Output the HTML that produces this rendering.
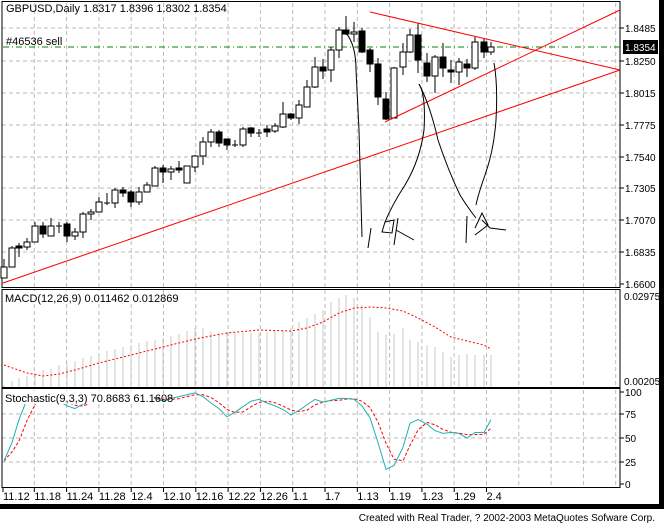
<!DOCTYPE html>
<html><head><meta charset="utf-8"><style>
html,body{margin:0;padding:0;background:#fff;width:664px;height:525px;overflow:hidden}
svg{display:block}
text{font-family:"Liberation Sans",sans-serif;font-size:11px;fill:#000}
text.a{font-size:10px}
</style></head><body>
<svg id="s" width="664" height="525" xmlns="http://www.w3.org/2000/svg"></svg>
<script>
const S=document.getElementById('s');let h='';
h+='<rect x="0" y="0" width="664" height="525" fill="#fff"/>';
const gx=[];for(let i=0;i<20;i++)gx.push(2+32.3*i);
const vg=(y1,y2)=>gx.slice(1).forEach(x=>{if(x<619)h+=`<line x1="${x}" y1="${y1}" x2="${x}" y2="${y2}" stroke="#bbb" stroke-dasharray="4,3"/>`});
const hg=(y,x2=620)=>h+=`<line x1="2" y1="${y}" x2="${x2}" y2="${y}" stroke="#bbb" stroke-dasharray="4,3"/>`;
vg(3,287);vg(290,387);vg(390,487);
const py=[28,61,93,125,157,188,220,252];py.forEach(y=>hg(y));
[414,438,462].forEach(y=>hg(y));
h+='<rect x="2" y="1.5" width="618" height="286" fill="none" stroke="#000"/>';
h+='<rect x="2" y="289.5" width="618" height="98" fill="none" stroke="#000"/>';
h+='<rect x="2" y="388.5" width="618" height="99" fill="none" stroke="#000"/>';
h+='<rect x="659" y="0" width="5" height="509" fill="#000"/><rect x="0" y="504" width="664" height="5" fill="#000"/>';
const pl=['1.8485','1.8250','1.8015','1.7775','1.7540','1.7305','1.7070','1.6835','1.6600'];
const ply=[28,61,93,125,157,188,220,252,284];
pl.forEach((t,i)=>{h+=`<line x1="620" y1="${ply[i]}" x2="624" y2="${ply[i]}" stroke="#000"/><text class="a" x="625" y="${ply[i]+4}">${t}</text>`});
h+='<line x1="3" y1="47" x2="620" y2="47" stroke="#080" stroke-dasharray="6,3,1,3"/>';
h+='<rect x="623" y="40" width="35" height="14" fill="#000"/><text class="a" x="625" y="51" style="fill:#fff">1.8354</text>';
h+='<text x="6" y="12">GBPUSD,Daily  1.8317 1.8396 1.8302 1.8354</text><text x="6" y="45">#46536 sell</text>';
const C=[[4,'w',267,278,259,278],[12,'w',248,267,246,267],[19,'b',246,248,243,257],[27,'w',242,247,238,250],[35,'w',226,242,222,242],[43,'b',226,234,222,238],[51,'w',226,236,218,236],[59,'c',226,226,222,233],[67,'b',224,236,222,242],[75,'w',232,236,228,240],[83,'w',214,232,212,238],[91,'w',212,214,209,220],[99,'w',202,212,197,212],[107,'c',203,203,193,205],[115,'w',190,203,188,208],[123,'b',190,193,187,197],[131,'b',192,202,190,207],[139,'w',192,202,187,205],[147,'w',185,192,182,192],[155,'w',168,186,166,186],[163,'b',168,172,165,183],[171,'w',169,172,166,180],[179,'b',168,169,161,173],[187,'w',166,183,166,183],[195,'w',156,167,155,172],[203,'w',142,156,137,165],[211,'w',132,142,129,147],[219,'b',132,143,130,147],[227,'b',139,145,139,150],[235,'c',145,145,140,147],[243,'w',129,145,127,147],[251,'b',128,133,127,137],[259,'c',133,133,129,137],[267,'b',129,132,125,137],[275,'w',126,131,123,133],[283,'w',114,127,102,128],[291,'b',114,118,113,120],[299,'w',105,118,100,124],[307,'w',87,107,80,107],[315,'w',67,87,57,88],[323,'b',67,71,59,79],[331,'w',50,70,47,82],[339,'w',30,50,27,58],[346,'b',30,34,16,35],[354,'w',32,33,22,42],[362,'b',31,52,28,53],[370,'b',50,64,48,72],[378,'b',64,97,58,105],[386,'b',99,119,92,120],[394,'w',68,118,67,118],[403,'w',52,67,43,75],[410,'w',35,52,29,53],[418,'b',35,60,23,73],[427,'b',63,76,53,82],[435,'w',57,76,55,93],[443,'b',57,68,43,77],[451,'b',70,72,60,83],[459,'w',62,72,58,85],[467,'b',64,68,59,77],[475,'w',42,68,37,70],[484,'b',42,52,38,58],[491,'w',47,52,42,55]];
C.forEach(c=>{const[x,t,a,b,hi,lo]=c;h+=`<line x1="${x}" y1="${hi}" x2="${x}" y2="${lo}" stroke="#000"/>`;
if(t=='c')h+=`<line x1="${x-3}" y1="${a}" x2="${x+3}" y2="${a}" stroke="#000"/>`;
else h+=`<rect x="${x-3}" y="${a}" width="6" height="${Math.max(b-a,2)}" fill="${t=='b'?'#000':'#fff'}" stroke="#000"/>`;});
h+='<g stroke="#f00" stroke-width="1" fill="none"><line x1="3" y1="283" x2="620" y2="70"/><line x1="370" y1="12" x2="620" y2="70"/><line x1="385" y1="122" x2="620" y2="10"/></g>';
h+='<g stroke="#000" stroke-width="1" fill="none">';
h+='<path d="M346,33 Q356,45 356,70 L359,130 L362,237"/><path d="M371,228 L368,248"/>';
h+='<path d="M382,232 L385,222 L394,220 L392,233 Z M398,218 L394,245 M396,230 L414,240"/>';
h+='<path d="M419,84 Q426,95 424,130 Q420,160 405,185 Q392,205 385,222"/>';
h+='<path d="M419,84 Q430,105 438,140 Q448,170 460,195 Q468,208 476,218"/>';
h+='<path d="M494,63 Q498,85 496,120 Q494,150 485,175 Q478,195 476,205"/>';
h+='<path d="M467,216 L466,243 M475,228 L482,213 L488,225 L475,235 M482,220 L490,228 L506,230"/>';
h+='</g>';
const mh=[[4,385],[12,381],[19,378],[27,376],[35,373],[43,370],[51,369],[59,365],[67,363],[75,361],[83,358],[91,356],[99,353],[107,351],[115,349],[123,347],[131,345],[139,343],[147,341],[155,340],[163,338],[171,336],[179,334],[187,331],[195,328],[203,328],[211,331],[219,332],[227,332],[235,333],[243,333],[251,333],[259,333],[267,332],[275,331],[283,330],[291,328],[299,322],[307,318],[315,314],[323,310],[331,302],[339,298],[346,295],[354,298],[362,305],[370,317],[378,332],[386,334],[394,334],[403,328],[410,340],[418,342],[427,345],[435,347],[443,352],[451,357],[459,355],[467,354],[475,355],[484,355],[491,355]];
mh.forEach(([x,y])=>h+=`<line x1="${x}" y1="${y}" x2="${x}" y2="387" stroke="#c8c8c8"/>`);
const sg=[[4,365],[27,373],[43,376],[59,374],[75,370],[99,363],[131,355],[163,347],[195,339],[227,333],[259,330],[291,331],[307,328],[323,322],[339,313],[354,308],[370,307],[386,308],[403,311],[418,318],[435,327],[451,337],[467,341],[484,345],[491,349]];
h+=`<polyline points="${sg.map(p=>p.join(',')).join(' ')}" fill="none" stroke="#f00" stroke-dasharray="2,2"/>`;
h+='<text class="a" x="624" y="300">0.02975</text><text class="a" x="624" y="385">0.00205</text>';
const K=[[4,25],[12,45],[19,70],[27,92],[35,97],[43,98],[51,92],[59,90],[67,85],[75,82],[83,87],[91,95],[99,97],[107,95],[115,94],[123,97],[131,96],[139,96],[147,93],[155,93],[163,90],[171,93],[179,95],[187,97],[195,99],[203,95],[211,88],[219,82],[227,73],[235,78],[243,84],[251,90],[259,92],[267,88],[275,85],[283,81],[291,75],[299,80],[307,86],[315,92],[323,89],[331,91],[339,93],[346,93],[354,92],[362,85],[370,72],[378,45],[386,16],[394,20],[403,40],[410,66],[418,70],[427,65],[435,58],[443,55],[451,56],[459,55],[467,50],[475,56],[484,56],[491,70]];
const sy=v=>484-v*0.92;
const D=K.map((p,i)=>{const a=K.slice(Math.max(0,i-2),i+1);return[p[0],a.reduce((s,q)=>s+q[1],0)/a.length]});
h+=`<polyline points="${D.map(p=>p[0]+','+sy(p[1]).toFixed(1)).join(' ')}" fill="none" stroke="#f00" stroke-dasharray="3,2"/>`;
h+=`<polyline points="${K.map(p=>p[0]+','+sy(p[1]).toFixed(1)).join(' ')}" fill="none" stroke="#20b0b0"/>`;
h+='<rect x="4" y="291" width="130" height="13" fill="#fff"/><text x="5" y="302">MACD(12,26,9)  0.011462  0.012869</text>';
h+='<rect x="4" y="391" width="150" height="13" fill="#fff"/><text x="5" y="402">Stochastic(9,3,3)  70.8683  61.1608</text>';
[['100',392],['75',414],['50',438],['25',462],['0',484]].forEach(([t,y])=>h+=`<line x1="620" y1="${y}" x2="624" y2="${y}" stroke="#000"/><text class="a" x="625" y="${y+4}">${t}</text>`);
const dl=['11.12','11.18','11.24','11.28','12.4','12.10','12.16','12.22','12.26','1.1','1.7','1.13','1.19','1.23','1.29','2.4'];
dl.forEach((t,i)=>{const x=gx[i]+(i==0?1:0);h+=`<line x1="${x}" y1="487" x2="${x}" y2="492" stroke="#000"/><text x="${x}" y="500">${t}</text>`});
h+='<text class="a" x="655" y="521" text-anchor="end">Created with Real Trader, ? 2002-2003 MetaQuotes Sofware Corp.</text>';
S.innerHTML=h;
</script>
</body></html>
